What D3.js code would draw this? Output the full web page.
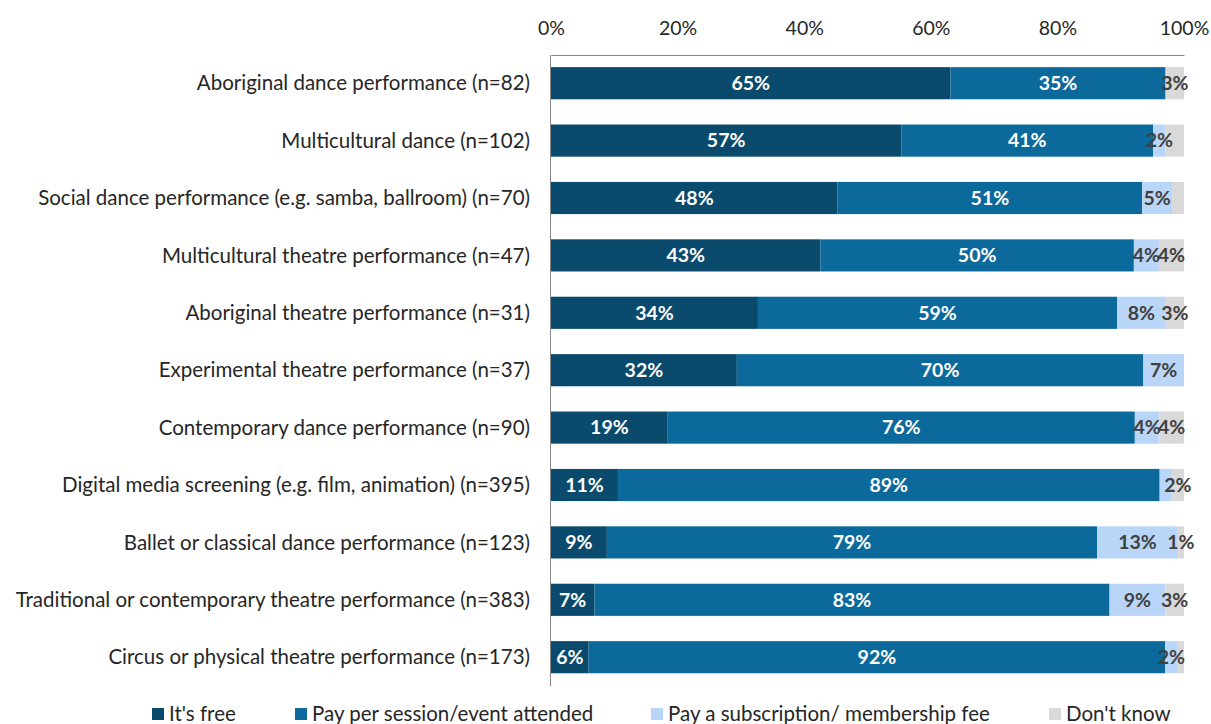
<!DOCTYPE html>
<html>
<head>
<meta charset="utf-8">
<script src="https://cdn.jsdelivr.net/npm/d3@7"></script>
<style>
  body { margin: 0; background: #fff; }
  svg text { font-family: Lato, "Open Sans", sans-serif; }
</style>
</head>
<body>
<svg id="chart" width="1211" height="724"></svg>
<script>
// categories, top to bottom
const categories = [
  "Aboriginal dance performance (n=82)",
  "Multicultural dance (n=102)",
  "Social dance performance (e.g. samba, ballroom) (n=70)",
  "Multicultural theatre performance (n=47)",
  "Aboriginal theatre performance (n=31)",
  "Experimental theatre performance (n=37)",
  "Contemporary dance performance (n=90)",
  "Digital media screening (e.g. film, animation) (n=395)",
  "Ballet or classical dance performance (n=123)",
  "Traditional or contemporary theatre performance (n=383)",
  "Circus or physical theatre performance (n=173)"
];

// series values (%), multiple answers allowed so rows sum over 100
const free         = [65, 57, 48, 43, 34, 32, 19, 11,  9,  7,  6];
const perSession   = [35, 41, 51, 50, 59, 70, 76, 89, 79, 83, 92];
const subscription = [ 0,  2,  5,  4,  8,  7,  4,  2, 13,  9,  2];
const dontKnow     = [ 3,  3,  2,  4,  3,  0,  4,  2,  1,  3,  1];

const seriesNames = ["It's free", "Pay per session/event attended", "Pay a subscription/ membership fee", "Don't know"];
const keys = ["free", "perSession", "subscription", "dontKnow"];
const colors = ["#0a4a6d", "#0b6a9b", "#b9d5f7", "#d9d9d9"];
const labelColors = ["#fff", "#fff", "#404040", "#404040"];

// labels that were removed on the original chart [row, key]
const hiddenLabels = [[1, "dontKnow"], [2, "dontKnow"], [7, "subscription"], [10, "dontKnow"]];

const xTicks = [0, 0.2, 0.4, 0.6, 0.8, 1];

const rows = categories.map((c, i) => ({
  cat: c,
  free: free[i],
  perSession: perSession[i],
  subscription: subscription[i],
  dontKnow: dontKnow[i]
}));

const svg = d3.select("#chart");

const x = d3.scaleLinear().domain([0, 1]).range([551, 1184]);
const y = d3.scaleBand().domain(categories).range([54.5, 685.9])
  .paddingInner(0.44).paddingOuter(0.22);

const stacked = d3.stack().keys(keys).offset(d3.stackOffsetExpand)(rows);

// top axis
const xAxis = svg.append("g")
  .attr("transform", "translate(0,55)")
  .call(d3.axisTop(x).tickValues(xTicks).tickFormat(d3.format(".0%")).tickSize(0).tickPadding(20));
xAxis.select(".domain").attr("stroke", "#868686");
xAxis.selectAll("text").attr("fill", "#262626").style("font-size", "19.5px");

// bars
const layers = svg.selectAll("g.layer")
  .data(stacked)
  .join("g")
  .attr("class", "layer")
  .attr("fill", (d, i) => colors[i]);

layers.selectAll("rect")
  .data(d => d)
  .join("rect")
  .attr("x", d => x(d[0]))
  .attr("y", d => y(d.data.cat))
  .attr("width", d => x(d[1]) - x(d[0]))
  .attr("height", y.bandwidth());

// left axis line
svg.append("line")
  .attr("x1", 550.5).attr("x2", 550.5)
  .attr("y1", 55).attr("y2", 686)
  .attr("stroke", "#868686");

// category labels
svg.append("g").selectAll("text")
  .data(categories)
  .join("text")
  .attr("x", 530)
  .attr("y", d => y(d) + y.bandwidth() / 2)
  .attr("dy", "0.35em")
  .attr("text-anchor", "end")
  .attr("fill", "#262626")
  .style("font-size", "20.5px")
  .text(d => d);

// value labels
const isHidden = (row, key) => hiddenLabels.some(h => h[0] === row && h[1] === key);
stacked.forEach((layer, si) => {
  svg.append("g").selectAll("text")
    .data(layer.map((d, i) => ({ d, i })).filter(o => o.d.data[layer.key] > 0 && !isHidden(o.i, layer.key)))
    .join("text")
    .attr("x", o => x((o.d[0] + o.d[1]) / 2))
    .attr("y", o => y(o.d.data.cat) + y.bandwidth() / 2)
    .attr("dy", "0.35em")
    .attr("text-anchor", "middle")
    .attr("fill", labelColors[si])
    .style("font-size", "19.5px")
    .style("font-weight", "bold")
    .text(o => o.d.data[layer.key] + "%");
});

// legend
const legendX = [152, 295, 651, 1049];
const legend = svg.append("g").selectAll("g")
  .data(seriesNames)
  .join("g")
  .attr("transform", (d, i) => "translate(" + legendX[i] + ",714)");
legend.append("rect")
  .attr("x", 0).attr("y", -6)
  .attr("width", 12).attr("height", 12)
  .attr("fill", (d, i) => colors[i]);
legend.append("text")
  .attr("x", 17)
  .attr("dy", "0.35em")
  .attr("fill", "#262626")
  .style("font-size", "20.5px")
  .text(d => d);
</script>
</body>
</html>
